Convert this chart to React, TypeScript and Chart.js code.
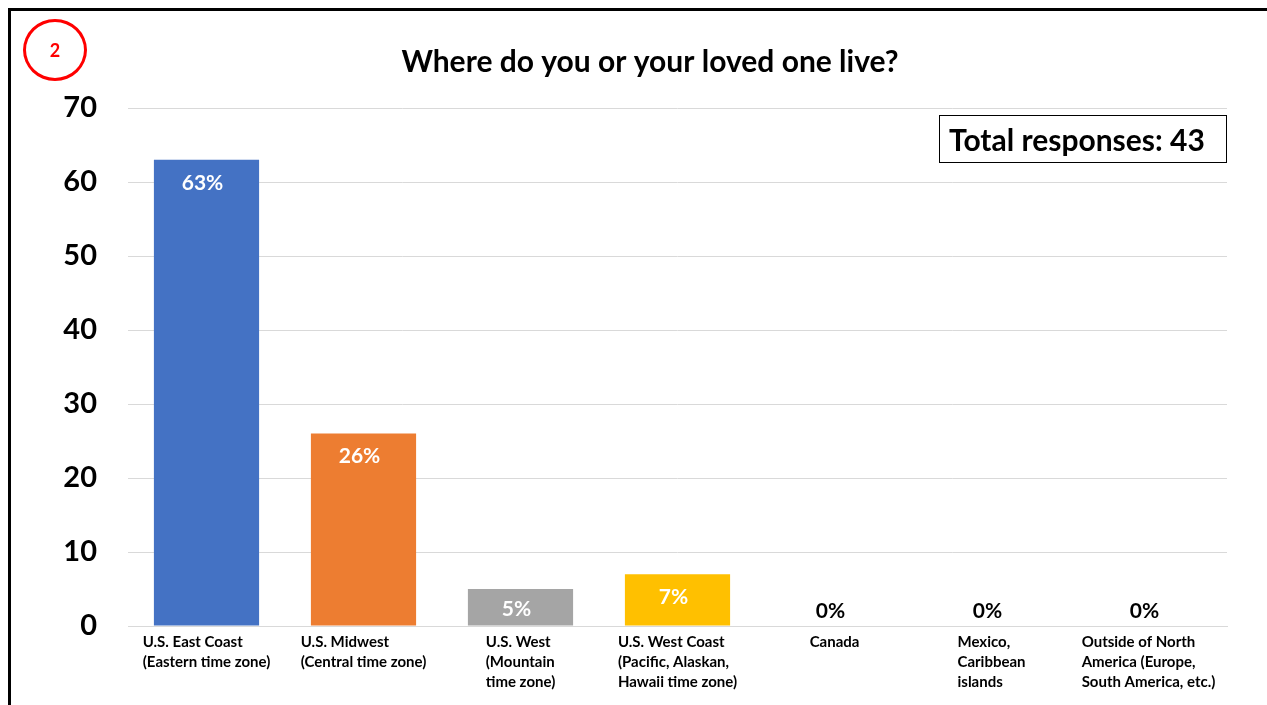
import React, { useEffect, useRef } from "react";
import { Chart, registerables } from "chart.js";

Chart.register(...registerables);

const TITLE = "Where do you or your loved one live?";
const CATEGORIES: string[][] = [
  ["U.S. East Coast", "(Eastern time zone)"],
  ["U.S. Midwest", "(Central time zone)"],
  ["U.S. West", "(Mountain", "time zone)"],
  ["U.S. West Coast", "(Pacific, Alaskan,", "Hawaii time zone)"],
  ["Canada"],
  ["Mexico,", "Caribbean", "islands"],
  ["Outside of North", "America (Europe,", "South America, etc.)"],
];
const VALUES = [63, 26, 5, 7, 0, 0, 0];
const PCT_LABELS = ["63%", "26%", "5%", "7%", "0%", "0%", "0%"];
const COLORS = ["#4472C4", "#ED7D31", "#A5A5A5", "#FFC000", "#5B9BD5", "#70AD47", "#264478"];
const Y_MIN = 0;
const Y_MAX = 70;
const Y_STEP = 10;
const TOTAL_LABEL = "Total responses: 43";
const BADGE = "2";

const FONT = "Lato, 'Open Sans', sans-serif";

const overlayPlugin = {
  id: "overlay",
  afterDatasetsDraw(chart: any) {
    const ctx = chart.ctx;
    const meta = chart.getDatasetMeta(0);
    const yScale = chart.scales.y;
    const base = yScale.getPixelForValue(0);
    ctx.save();
    ctx.font = `bold 21px ${FONT}`;
    ctx.textAlign = "center";
    ctx.textBaseline = "middle";
    meta.data.forEach((bar: any, i: number) => {
      const v = VALUES[i];
      if (v > 0) {
        ctx.fillStyle = "#ffffff";
        const y = Math.min(bar.y + 23, (bar.y + base) / 2 + 2);
        ctx.fillText(PCT_LABELS[i], bar.x - 4, y);
      } else {
        ctx.fillStyle = "#000000";
        ctx.fillText(PCT_LABELS[i], bar.x - 4, base - 15);
      }
    });
    ctx.restore();
  },
  afterDraw(chart: any) {
    const ctx = chart.ctx;
    const xScale = chart.scales.x;
    ctx.save();
    // x labels: block centered, lines left-aligned
    ctx.font = `bold 15px ${FONT}`;
    ctx.fillStyle = "#000000";
    ctx.textBaseline = "middle";
    ctx.textAlign = "left";
    const labels = chart.data.labels as string[][];
    labels.forEach((lines, i) => {
      const cx = xScale.getPixelForTick(i);
      const w = Math.max(...lines.map((l) => ctx.measureText(l).width));
      const x0 = cx - w / 2;
      lines.forEach((l, k) => {
        ctx.fillText(l, x0, 642 + k * 20);
      });
    });
    // title
    ctx.font = `bold 30px ${FONT}`;
    ctx.textAlign = "center";
    ctx.fillText(TITLE, 650, 62);
    ctx.restore();
  },
};

export default function App() {
  const ref = useRef<HTMLCanvasElement | null>(null);
  useEffect(() => {
    if (!ref.current) return;
    const chart = new Chart(ref.current, {
      type: "bar",
      data: {
        labels: CATEGORIES,
        datasets: [
          {
            data: VALUES,
            backgroundColor: COLORS,
            borderWidth: 0,
            barPercentage: 0.67,
            categoryPercentage: 1,
          },
        ],
      },
      options: {
        animation: false,
        responsive: false,
        maintainAspectRatio: false,
        layout: { padding: { top: 108, left: 0, right: 40, bottom: 0 } },
        plugins: {
          legend: { display: false },
          title: { display: false },
          tooltip: { enabled: false },
        },
        scales: {
          x: {
            ticks: { display: false },
            grid: { display: false, drawTicks: false },
            border: { display: true, color: "#d9d9d9", width: 1 },
            afterFit: (s: any) => {
              s.height = 79;
            },
          },
          y: {
            min: Y_MIN,
            max: Y_MAX,
            ticks: {
              stepSize: Y_STEP,
              padding: 31,
              color: "#000000",
              font: { family: FONT, weight: "bold", size: 29 },
            },
            grid: { color: "#d9d9d9", lineWidth: 1, drawTicks: false },
            border: { display: false },
            afterFit: (s: any) => {
              s.width = 128;
            },
          },
        },
      },
      plugins: [overlayPlugin],
    });
    return () => chart.destroy();
  }, []);

  return (
    <div
      style={{
        position: "fixed",
        left: 0,
        top: 0,
        width: 1267,
        height: 705,
        overflow: "hidden",
        background: "#ffffff",
      }}
    >
      <canvas ref={ref} width={1267} height={705} style={{ position: "absolute", left: 0, top: 0 }} />
      <div
        style={{
          position: "absolute",
          left: 8,
          top: 8,
          width: 1400,
          height: 800,
          borderTop: "3px solid #000",
          borderLeft: "3px solid #000",
          pointerEvents: "none",
        }}
      />
      <div
        style={{
          position: "absolute",
          left: 23,
          top: 19,
          width: 58,
          height: 56,
          border: "3px solid #ff0000",
          borderRadius: "50%",
          display: "flex",
          alignItems: "center",
          justifyContent: "center",
          color: "#ff0000",
          fontFamily: FONT,
          fontWeight: "bold",
          fontSize: 18,
        }}
      >
        {BADGE}
      </div>
      <div
        style={{
          position: "absolute",
          left: 939,
          top: 115,
          width: 288,
          height: 48,
          boxSizing: "border-box",
          border: "1.5px solid #000",
          display: "flex",
          alignItems: "center",
          paddingLeft: 9,
          fontFamily: FONT,
          fontWeight: "bold",
          fontSize: 30,
          color: "#000",
          whiteSpace: "nowrap",
        }}
      >
        {TOTAL_LABEL}
      </div>
    </div>
  );
}
